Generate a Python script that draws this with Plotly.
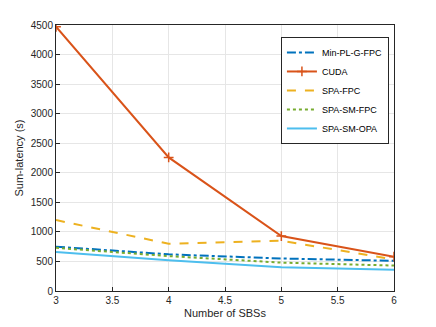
import plotly.graph_objects as go

# Number of SBSs
sbs = [3, 4, 5, 6]

# Sum-latency (s) per scheme
min_pl_g_fpc = [750, 620, 550, 510]
cuda = [4470, 2260, 930, 580]
spa_fpc = [1200, 800, 850, 535]
spa_sm_fpc = [730, 590, 480, 430]
spa_sm_opa = [660, 520, 400, 360]

fig = go.Figure()

fig.add_trace(go.Scatter(
    x=sbs, y=min_pl_g_fpc, name='Min-PL-G-FPC', mode='lines',
    line=dict(color='#0072BD', width=2, dash='dashdot')
))
fig.add_trace(go.Scatter(
    x=sbs, y=cuda, name='CUDA', mode='lines+markers',
    line=dict(color='#D95319', width=2),
    marker=dict(symbol='cross-thin', size=7, color='#D95319',
                line=dict(width=1.5, color='#D95319'))
))
fig.add_trace(go.Scatter(
    x=sbs, y=spa_fpc, name='SPA-FPC', mode='lines',
    line=dict(color='#EDB120', width=2, dash='dash')
))
fig.add_trace(go.Scatter(
    x=sbs, y=spa_sm_fpc, name='SPA-SM-FPC', mode='lines',
    line=dict(color='#77AC30', width=2, dash='dot')
))
fig.add_trace(go.Scatter(
    x=sbs, y=spa_sm_opa, name='SPA-SM-OPA', mode='lines',
    line=dict(color='#4DBEEE', width=2)
))

axis_style = dict(
    showline=True, linecolor='#262626', linewidth=1, mirror=True,
    ticks='inside', ticklen=4, tickcolor='#262626',
    showgrid=True, gridcolor='#E6E6E6', zeroline=False,
    automargin=False,
    tickfont=dict(family='Liberation Sans, Arial', size=10, color='#262626'),
)

fig.update_xaxes(
    range=[3, 6], dtick=0.5,
    title=dict(text='Number of SBSs', standoff=4,
               font=dict(family='Liberation Sans, Arial', size=11, color='#262626')),
    **axis_style
)
fig.update_yaxes(
    range=[0, 4500], dtick=500,
    title=dict(text='Sum-latency (s)', standoff=4,
               font=dict(family='Liberation Sans, Arial', size=11, color='#262626')),
    **axis_style
)

# page body adds an 8px offset, margins compensate for it
fig.update_layout(
    width=436, height=327,
    margin=dict(l=48, r=50, t=17, b=44),
    paper_bgcolor='white', plot_bgcolor='white',
    showlegend=True,
    legend=dict(
        x=0.985, y=0.955, xanchor='right', yanchor='top',
        bgcolor='white', bordercolor='#262626', borderwidth=1,
        font=dict(family='Liberation Sans, Arial', size=9, color='#000000'),
        tracegroupgap=0, itemwidth=30,
    ),
)

fig.write_html("out.html")
